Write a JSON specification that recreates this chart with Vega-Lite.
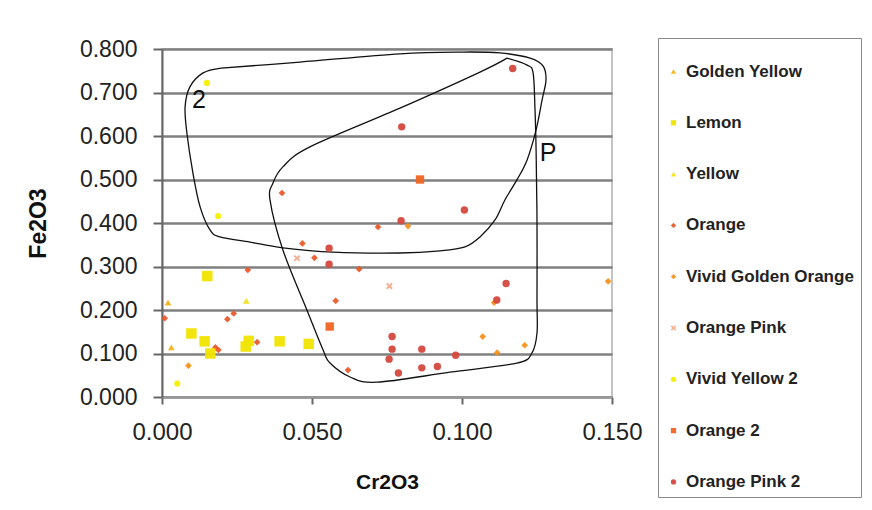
{
  "$schema": "https://vega.github.io/schema/vega-lite/v6.json",
  "width": 450,
  "height": 348,
  "autosize": {"type": "none"},
  "padding": {"left": 162, "top": 49, "right": 260, "bottom": 113},
  "background": "white",
  "config": {
    "font": "Liberation Sans",
    "view": {"stroke": "#c4c4c4", "strokeWidth": 2},
    "axis": {"labelFont": "Liberation Sans", "titleFont": "Liberation Sans", "labelColor": "#222", "titleColor": "#111", "labelFlush": false}
  },
  "datasets": {
    "pts": [
      {"series": "Vivid Yellow 2", "x": 0.015, "y": 0.722},
      {"series": "Vivid Yellow 2", "x": 0.0187, "y": 0.416},
      {"series": "Vivid Yellow 2", "x": 0.0051, "y": 0.031},
      {"series": "Orange", "x": 0.040, "y": 0.469},
      {"series": "Orange", "x": 0.072, "y": 0.391},
      {"series": "Orange", "x": 0.0468, "y": 0.353},
      {"series": "Orange", "x": 0.0508, "y": 0.320},
      {"series": "Orange", "x": 0.0657, "y": 0.294},
      {"series": "Orange", "x": 0.0286, "y": 0.292},
      {"series": "Orange", "x": 0.0579, "y": 0.221},
      {"series": "Orange", "x": 0.0009, "y": 0.181},
      {"series": "Orange", "x": 0.0239, "y": 0.192},
      {"series": "Orange", "x": 0.0218, "y": 0.179},
      {"series": "Orange", "x": 0.0178, "y": 0.114},
      {"series": "Orange", "x": 0.0188, "y": 0.108},
      {"series": "Orange", "x": 0.0317, "y": 0.126},
      {"series": "Orange", "x": 0.062, "y": 0.062},
      {"series": "Vivid Golden Orange", "x": 0.082, "y": 0.393},
      {"series": "Vivid Golden Orange", "x": 0.0088, "y": 0.072},
      {"series": "Vivid Golden Orange", "x": 0.1107, "y": 0.217},
      {"series": "Vivid Golden Orange", "x": 0.1487, "y": 0.266},
      {"series": "Vivid Golden Orange", "x": 0.1069, "y": 0.139},
      {"series": "Vivid Golden Orange", "x": 0.1209, "y": 0.119},
      {"series": "Vivid Golden Orange", "x": 0.1117, "y": 0.102},
      {"series": "Orange Pink 2", "x": 0.0797, "y": 0.405},
      {"series": "Orange Pink 2", "x": 0.0557, "y": 0.342},
      {"series": "Orange Pink 2", "x": 0.0557, "y": 0.305},
      {"series": "Orange Pink 2", "x": 0.0767, "y": 0.139},
      {"series": "Orange Pink 2", "x": 0.0767, "y": 0.110},
      {"series": "Orange Pink 2", "x": 0.0757, "y": 0.087},
      {"series": "Orange Pink 2", "x": 0.0788, "y": 0.055},
      {"series": "Orange Pink 2", "x": 0.1008, "y": 0.430},
      {"series": "Orange Pink 2", "x": 0.1147, "y": 0.261},
      {"series": "Orange Pink 2", "x": 0.1116, "y": 0.223},
      {"series": "Orange Pink 2", "x": 0.0866, "y": 0.110},
      {"series": "Orange Pink 2", "x": 0.0979, "y": 0.096},
      {"series": "Orange Pink 2", "x": 0.0866, "y": 0.067},
      {"series": "Orange Pink 2", "x": 0.0918, "y": 0.070},
      {"series": "Orange Pink 2", "x": 0.1169, "y": 0.755},
      {"series": "Orange Pink 2", "x": 0.0799, "y": 0.621},
      {"series": "Orange Pink", "x": 0.045, "y": 0.319},
      {"series": "Orange Pink", "x": 0.0758, "y": 0.255},
      {"series": "Golden Yellow", "x": 0.002, "y": 0.217},
      {"series": "Golden Yellow", "x": 0.0031, "y": 0.114},
      {"series": "Yellow", "x": 0.0281, "y": 0.221},
      {"series": "Lemon", "x": 0.0151, "y": 0.278},
      {"series": "Lemon", "x": 0.0098, "y": 0.146},
      {"series": "Lemon", "x": 0.0142, "y": 0.128},
      {"series": "Lemon", "x": 0.0161, "y": 0.100},
      {"series": "Lemon", "x": 0.0289, "y": 0.129},
      {"series": "Lemon", "x": 0.0279, "y": 0.116},
      {"series": "Lemon", "x": 0.0392, "y": 0.128},
      {"series": "Lemon", "x": 0.0489, "y": 0.122},
      {"series": "Orange 2", "x": 0.0559, "y": 0.162},
      {"series": "Orange 2", "x": 0.086, "y": 0.500}
    ],
    "curves": [
      {"curve": "P", "ord": 1, "x": 0.115, "y": 0.779},
      {"curve": "P", "ord": 2, "x": 0.1217, "y": 0.763},
      {"curve": "P", "ord": 3, "x": 0.1237, "y": 0.745},
      {"curve": "P", "ord": 4, "x": 0.1243, "y": 0.667},
      {"curve": "P", "ord": 5, "x": 0.1247, "y": 0.568},
      {"curve": "P", "ord": 6, "x": 0.125, "y": 0.407},
      {"curve": "P", "ord": 7, "x": 0.125, "y": 0.223},
      {"curve": "P", "ord": 8, "x": 0.125, "y": 0.147},
      {"curve": "P", "ord": 9, "x": 0.1233, "y": 0.101},
      {"curve": "P", "ord": 10, "x": 0.1183, "y": 0.078},
      {"curve": "P", "ord": 11, "x": 0.096, "y": 0.057},
      {"curve": "P", "ord": 12, "x": 0.0717, "y": 0.034},
      {"curve": "P", "ord": 13, "x": 0.0627, "y": 0.046},
      {"curve": "P", "ord": 14, "x": 0.056, "y": 0.078},
      {"curve": "P", "ord": 15, "x": 0.0537, "y": 0.108},
      {"curve": "P", "ord": 16, "x": 0.0483, "y": 0.200},
      {"curve": "P", "ord": 17, "x": 0.0403, "y": 0.338},
      {"curve": "P", "ord": 18, "x": 0.036, "y": 0.453},
      {"curve": "P", "ord": 19, "x": 0.037, "y": 0.492},
      {"curve": "P", "ord": 20, "x": 0.0403, "y": 0.529},
      {"curve": "P", "ord": 21, "x": 0.0493, "y": 0.575},
      {"curve": "P", "ord": 22, "x": 0.0793, "y": 0.664},
      {"curve": "P", "ord": 23, "x": 0.106, "y": 0.747},
      {"curve": "P", "ord": 24, "x": 0.115, "y": 0.779},
      {"curve": "two", "ord": 1, "x": 0.0197, "y": 0.756},
      {"curve": "two", "ord": 2, "x": 0.046, "y": 0.770},
      {"curve": "two", "ord": 3, "x": 0.0793, "y": 0.789},
      {"curve": "two", "ord": 4, "x": 0.1003, "y": 0.793},
      {"curve": "two", "ord": 5, "x": 0.1127, "y": 0.791},
      {"curve": "two", "ord": 6, "x": 0.1227, "y": 0.779},
      {"curve": "two", "ord": 7, "x": 0.127, "y": 0.761},
      {"curve": "two", "ord": 8, "x": 0.128, "y": 0.729},
      {"curve": "two", "ord": 9, "x": 0.1267, "y": 0.683},
      {"curve": "two", "ord": 10, "x": 0.1247, "y": 0.614},
      {"curve": "two", "ord": 11, "x": 0.1217, "y": 0.545},
      {"curve": "two", "ord": 12, "x": 0.1183, "y": 0.499},
      {"curve": "two", "ord": 13, "x": 0.1143, "y": 0.453},
      {"curve": "two", "ord": 14, "x": 0.111, "y": 0.407},
      {"curve": "two", "ord": 15, "x": 0.106, "y": 0.368},
      {"curve": "two", "ord": 16, "x": 0.101, "y": 0.345},
      {"curve": "two", "ord": 17, "x": 0.0927, "y": 0.336},
      {"curve": "two", "ord": 18, "x": 0.0793, "y": 0.331},
      {"curve": "two", "ord": 19, "x": 0.057, "y": 0.333},
      {"curve": "two", "ord": 20, "x": 0.0403, "y": 0.343},
      {"curve": "two", "ord": 21, "x": 0.0293, "y": 0.356},
      {"curve": "two", "ord": 22, "x": 0.0193, "y": 0.368},
      {"curve": "two", "ord": 23, "x": 0.016, "y": 0.384},
      {"curve": "two", "ord": 24, "x": 0.0127, "y": 0.437},
      {"curve": "two", "ord": 25, "x": 0.0103, "y": 0.515},
      {"curve": "two", "ord": 26, "x": 0.0083, "y": 0.607},
      {"curve": "two", "ord": 27, "x": 0.0077, "y": 0.667},
      {"curve": "two", "ord": 28, "x": 0.0093, "y": 0.713},
      {"curve": "two", "ord": 29, "x": 0.0137, "y": 0.745},
      {"curve": "two", "ord": 30, "x": 0.0197, "y": 0.756}
    ],
    "labels": [
      {"label": "2", "x": 0.0123, "y": 0.683},
      {"label": "P", "x": 0.1287, "y": 0.561}
    ]
  },
  "layer": [
    {
      "data": {"name": "curves"},
      "mark": {"type": "line", "color": "#111", "strokeWidth": 1.3, "interpolate": "cardinal", "clip": true},
      "encoding": {
        "x": {"field": "x", "type": "quantitative", "scale": {"domain": [0, 0.15], "nice": false},
          "axis": {"title": "Cr2O3", "values": [0, 0.05, 0.1, 0.15], "format": ".3f", "grid": false,
            "labelFontSize": 24, "labelPadding": 16, "tickSize": 7, "tickColor": "#666", "tickWidth": 2,
            "domainColor": "#9a9a9a", "domainWidth": 2, "titleFontSize": 21, "titleFontWeight": "bold", "titlePadding": 27}},
        "y": {"field": "y", "type": "quantitative", "scale": {"domain": [0, 0.8], "nice": false},
          "axis": {"title": "Fe2O3", "values": [0, 0.1, 0.2, 0.3, 0.4, 0.5, 0.6, 0.7, 0.8], "format": ".3f",
            "labelFontSize": 23, "labelPadding": 16, "tickSize": 9, "tickColor": "#666", "tickWidth": 2,
            "domainColor": "#666", "domainWidth": 2,
            "gridColor": "#808080", "gridWidth": 2.5,
            "titleFontSize": 23, "titleFontWeight": "bold", "titlePadding": 29}},
        "detail": {"field": "curve", "type": "nominal"},
        "order": {"field": "ord", "type": "quantitative"}
      }
    },
    {
      "data": {"name": "pts"},
      "mark": {"type": "point", "filled": true, "opacity": 0.95},
      "encoding": {
        "x": {"field": "x", "type": "quantitative"},
        "y": {"field": "y", "type": "quantitative"},
        "color": {"field": "series", "type": "nominal",
          "scale": {
            "domain": ["Golden Yellow", "Lemon", "Yellow", "Orange", "Vivid Golden Orange", "Orange Pink", "Vivid Yellow 2", "Orange 2", "Orange Pink 2"],
            "range": ["#F5B21A", "#F0E400", "#F2E21A", "#EA5A2A", "#F7921E", "#F4A98A", "#F4F000", "#F06522", "#D4483E"]
          },
          "legend": {
            "title": " ", "titleFontSize": 1, "titlePadding": 17,
            "orient": "none", "legendX": 496, "legendY": -11,
            "padding": 7, "strokeColor": "#8a8a8a", "fillColor": "white",
            "labelFontSize": 17, "labelFontWeight": "bold", "labelColor": "#222", "labelFont": "Liberation Sans",
            "labelOffset": 4, "rowPadding": 33.3, "symbolSize": 28, "labelLimit": 300
          }
        },
        "shape": {"field": "series", "type": "nominal",
          "scale": {
            "domain": ["Golden Yellow", "Lemon", "Yellow", "Orange", "Vivid Golden Orange", "Orange Pink", "Vivid Yellow 2", "Orange 2", "Orange Pink 2"],
            "range": ["triangle-up", "square", "triangle-up", "diamond", "diamond", "M-1,-0.6L-0.6,-1L0,-0.4L0.6,-1L1,-0.6L0.4,0L1,0.6L0.6,1L0,0.4L-0.6,1L-1,0.6L-0.4,0Z", "circle", "square", "circle"]
          }
        },
        "size": {
          "condition": [
            {"test": "datum.series == 'Lemon'", "value": 110},
            {"test": "datum.series == 'Orange 2'", "value": 70},
            {"test": "datum.series == 'Orange Pink 2'", "value": 55},
            {"test": "datum.series == 'Vivid Yellow 2'", "value": 38}
          ],
          "value": 45
        }
      }
    },
    {
      "data": {"name": "labels"},
      "mark": {"type": "text", "fontSize": 25, "color": "#111", "font": "Liberation Sans", "baseline": "middle", "align": "center"},
      "encoding": {
        "x": {"field": "x", "type": "quantitative"},
        "y": {"field": "y", "type": "quantitative"},
        "text": {"field": "label", "type": "nominal"}
      }
    }
  ]
}
